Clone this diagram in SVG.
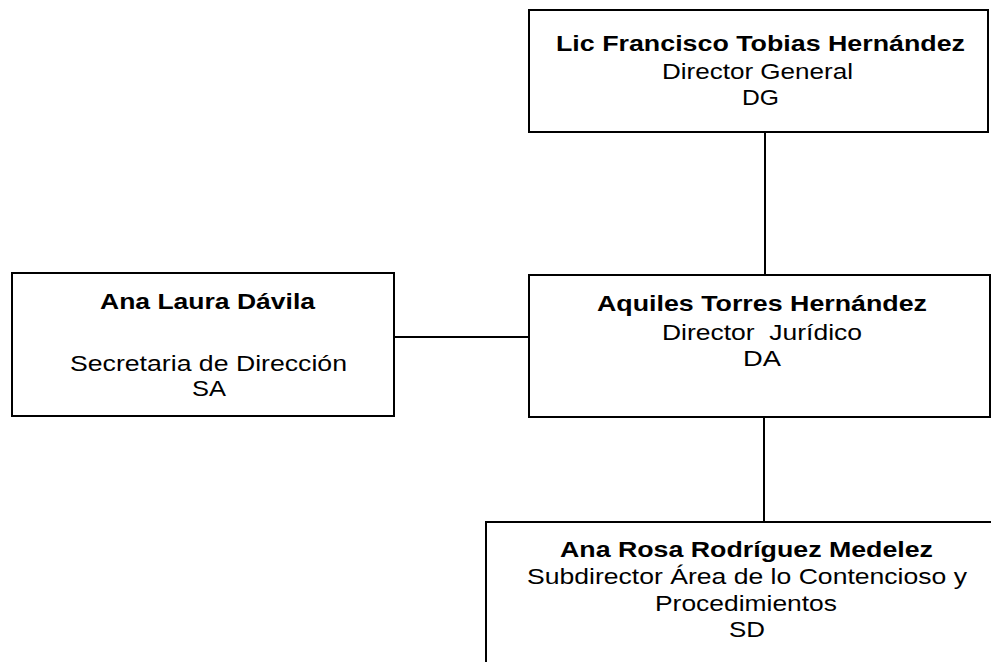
<svg xmlns="http://www.w3.org/2000/svg" width="991" height="662" viewBox="0 0 991 662">
<style>
.box{fill:#fff;stroke:#000;stroke-width:2}
.con{stroke:#000;stroke-width:2;fill:none}
text{font-family:"Liberation Sans",Arial,sans-serif;font-size:22px;fill:#000}
.b{font-weight:bold}
</style>
<rect width="991" height="662" fill="#fff"/>
<g id="connectors">
<line class="con" x1="765" y1="132" x2="765" y2="275"/>
<line class="con" x1="394" y1="337" x2="529" y2="337"/>
<line class="con" x1="764" y1="417" x2="764" y2="522"/>
</g>
<g id="node-dg">
<rect class="box" x="529" y="10" width="459" height="122"/>
<text class="b" x="556" y="51" textLength="409" lengthAdjust="spacingAndGlyphs">Lic Francisco Tobias Hernández</text>
<text x="662" y="79" textLength="191" lengthAdjust="spacingAndGlyphs">Director General</text>
<text x="742" y="105" textLength="37" lengthAdjust="spacingAndGlyphs">DG</text>
</g>
<g id="node-sa">
<rect class="box" x="12" y="273" width="382" height="143"/>
<text class="b" x="100" y="309" textLength="215" lengthAdjust="spacingAndGlyphs">Ana Laura Dávila</text>
<text x="70" y="371" textLength="277" lengthAdjust="spacingAndGlyphs">Secretaria de Dirección</text>
<text x="192" y="396" textLength="34" lengthAdjust="spacingAndGlyphs">SA</text>
</g>
<g id="node-da">
<rect class="box" x="529" y="275" width="461" height="142"/>
<text class="b" x="597" y="311" textLength="330" lengthAdjust="spacingAndGlyphs">Aquiles Torres Hernández</text>
<text x="662" y="340" textLength="200" lengthAdjust="spacingAndGlyphs" xml:space="preserve">Director  Jurídico</text>
<text x="743" y="366" textLength="38" lengthAdjust="spacingAndGlyphs">DA</text>
</g>
<g id="node-sd">
<rect class="box" x="486" y="522" width="506" height="150"/>
<text class="b" x="560" y="557" textLength="373" lengthAdjust="spacingAndGlyphs">Ana Rosa Rodríguez Medelez</text>
<text x="527" y="584" textLength="440" lengthAdjust="spacingAndGlyphs">Subdirector Área de lo Contencioso y</text>
<text x="655" y="611" textLength="182" lengthAdjust="spacingAndGlyphs">Procedimientos</text>
<text x="729" y="637" textLength="36" lengthAdjust="spacingAndGlyphs">SD</text>
</g>
</svg>
